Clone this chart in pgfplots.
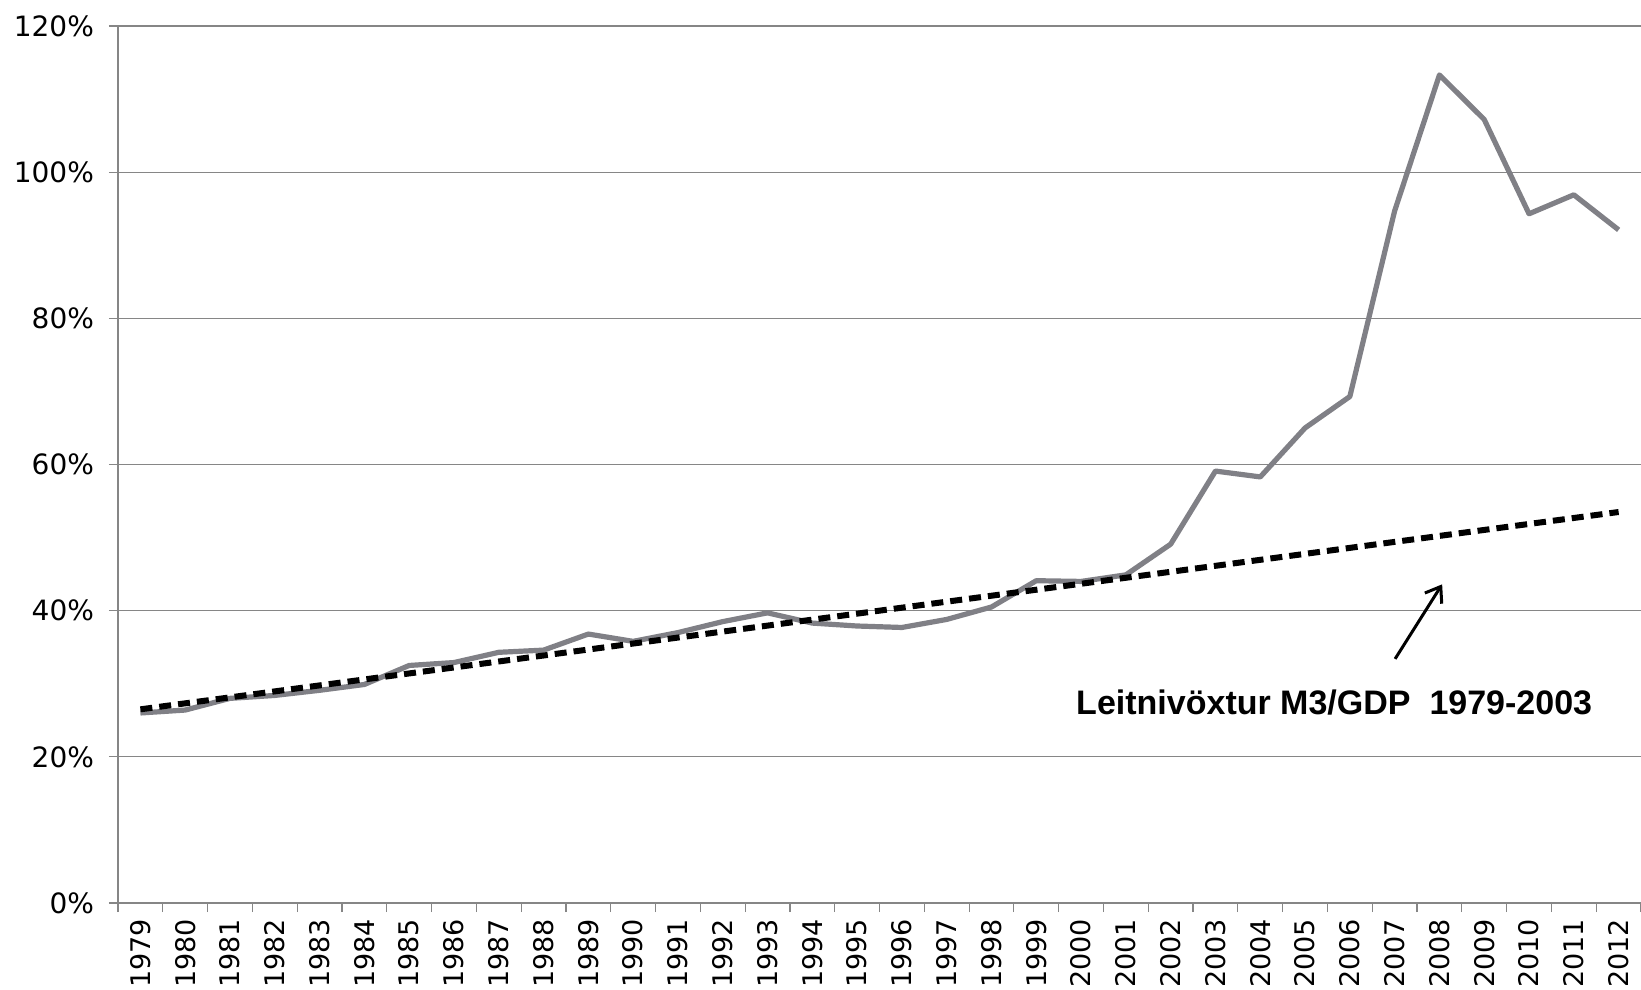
\documentclass[border=0pt]{standalone}
\usepackage{fontspec}
\setmainfont{DejaVu Sans}
\newfontfamily\annfont{Liberation Sans}
\usepackage{pgfplots}
\pgfplotsset{compat=1.18}
\usetikzlibrary{arrows.meta}
\definecolor{gridgray}{RGB}{134,134,134}
\definecolor{linegray}{RGB}{128,128,134}
\begin{document}
\begin{tikzpicture}
\useasboundingbox (-59pt,-43pt) rectangle (761.5pt,451.5pt);
\begin{axis}[
  at={(0pt,0pt)}, anchor=south west,
  scale only axis, width=761.5pt, height=438.5pt,
  xmin=-0.5, xmax=33.5, ymin=0, ymax=120,
  axis x line*=bottom, axis y line*=left,
  axis line style={gridgray, line width=0.6pt},
  ymajorgrids, grid style={gridgray, line width=0.6pt},
  ytick={0,20,40,60,80,100,120},
  yticklabels={0\%,20\%,40\%,60\%,80\%,100\%,120\%},
  xtick={0,...,33},
  xticklabels={1979,1980,1981,1982,1983,1984,1985,1986,1987,1988,1989,1990,1991,1992,1993,1994,1995,1996,1997,1998,1999,2000,2001,2002,2003,2004,2005,2006,2007,2008,2009,2010,2011,2012},
  minor xtick={-0.5,0.5,...,33.5},
  tick align=outside, major tick length=4.5pt, minor tick length=4.5pt,
  tick style={gridgray, line width=0.6pt},
  major x tick style={draw=none},
  ticklabel style={text=black},
  y tick label style={font=\fontsize{14}{16}\selectfont, xshift=-4pt},
  x tick label style={font=\fontsize{13.5}{16}\selectfont, rotate=90, anchor=east},
  clip=false,
]
\addplot[linegray, line width=2.6pt, line join=round] coordinates {
(0,26.0) (1,26.4) (2,28.0) (3,28.4) (4,29.1) (5,29.9) (6,32.5) (7,32.9)
(8,34.3) (9,34.6) (10,36.8) (11,35.8) (12,37.0) (13,38.5) (14,39.7) (15,38.3)
(16,37.9) (17,37.7) (18,38.8) (19,40.5) (20,44.1) (21,44.0) (22,44.9) (23,49.1)
(24,59.1) (25,58.3) (26,65.0) (27,69.3) (28,94.7) (29,113.3) (30,107.2) (31,94.3)
(32,96.9) (33,92.1)
};
\addplot[black, line width=3pt, dash pattern=on 6pt off 3.5pt] coordinates {
(0,26.5) (33,53.5)
};
\draw[-{Straight Barb[length=7pt,width=10pt]}, black, line width=1.5pt]
  (axis cs:28.01,33.4) -- (axis cs:29.06,43.6);
\node[font=\annfont\bfseries\fontsize{17}{20}\selectfont, text=black]
  at (axis cs:26.65,27.4) {Leitnivöxtur M3/GDP\ \ 1979-2003};
\end{axis}
\end{tikzpicture}
\end{document}
